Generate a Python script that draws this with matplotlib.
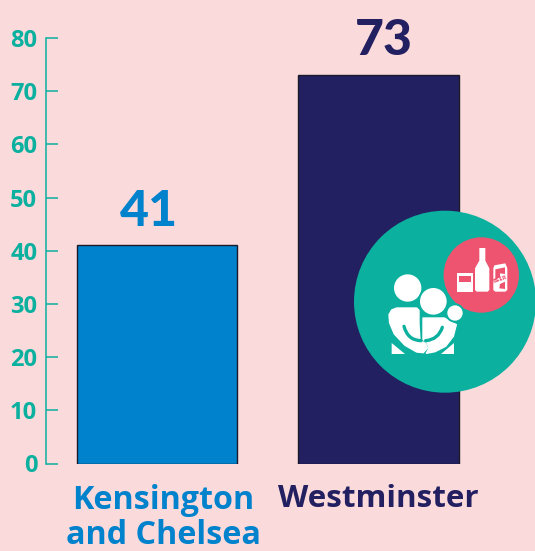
import matplotlib
matplotlib.use('Agg')
import matplotlib.pyplot as plt
from matplotlib.patches import Circle, Polygon, PathPatch
from matplotlib.path import Path

areas = ['Kensington\nand Chelsea', 'Westminster']
values = [41, 73]
y_ticks = [0, 10, 20, 30, 40, 50, 60, 70, 80]

BG = '#fbdadc'
TEAL = '#0bb09f'
BLUE = '#0082cc'
NAVY = '#222060'
PINK = '#ee5470'
FONT = ['Open Sans', 'DejaVu Sans']
NUM_FONT = ['Lato', 'DejaVu Sans']

W, H = 535, 551
fig = plt.figure(figsize=(W / 100, H / 100), dpi=100, facecolor=BG)

# main axes, placed to line up with the reference pixels
ax = fig.add_axes([45.5 / W, 1 - 463.5 / H, (W - 45.5) / W, (463.5 - 38) / H])
ax.set_facecolor('none')
bars = ax.bar([0, 1], values, width=0.7246, color=[BLUE, NAVY], edgecolor='#1a1a2a', linewidth=1)
ax.set_xlim(-0.503, 1.7065)
ax.set_ylim(0, 80)
ax.set_yticks(y_ticks)
ax.set_yticklabels(y_ticks, family=FONT, fontweight='bold', fontsize=17, color=TEAL)
ax.tick_params(axis='y', direction='in', length=8.5, width=1.1, color=TEAL, pad=6)
ax.set_xticks([])
for s in ['top', 'right', 'bottom']:
    ax.spines[s].set_visible(False)
ax.spines['left'].set_color(TEAL)
ax.spines['left'].set_linewidth(1.1)

# value labels sit a little off centre in the reference
for i, (v, c, dx) in enumerate(zip(values, [BLUE, NAVY], [-6, 3.5])):
    ax.annotate(str(v), (i, v), xytext=(dx, 8.5), textcoords='offset points', ha='center', va='bottom',
                family=NUM_FONT, fontweight='black', fontsize=36, color=c, annotation_clip=False)
for i, (n, c, dx, fs) in enumerate(zip(areas, [BLUE, NAVY], [4.5, 0], [23.2, 22.6])):
    ax.annotate(n, (i, 0), xytext=(dx, -15), textcoords='offset points', ha='center', va='top',
                family=FONT, fontweight='bold', fontsize=fs, color=c, linespacing=1.08,
                annotation_clip=False)

# overlay in pixel coordinates for the icon
ov = fig.add_axes([0, 0, 1, 1])
ov.set_xlim(0, W)
ov.set_ylim(H, 0)
ov.axis('off')


def fam(x, y):
    # family icon, crop coordinates to pixels
    return (385 + x / 3, 268 + y / 3)


def drk(x, y):
    # drinks icon, crop coordinates to pixels
    return (450 + x / 3, 240 + y / 3)


def poly(points, conv, color, zorder=3, round_lw=0):
    ov.add_patch(Polygon([conv(*p) for p in points], closed=True, fc=color,
                         ec=color if round_lw else 'none', lw=round_lw, joinstyle='round', zorder=zorder))


ov.add_patch(Circle((445, 301.7), 91, fc=TEAL, ec='none', zorder=2))
ov.add_patch(Circle((481.3, 275), 37.7, fc=PINK, ec='none', zorder=3))

# glass
poly([(20, 100), (68, 100), (68, 155), (20, 155)], drk, 'white', 4)
poly([(27, 107), (62, 107), (62, 127), (27, 127)], drk, PINK, 5)
# bottle
poly([(88, 24), (106, 24), (106, 62), (118, 85), (118, 150), (113, 155), (80, 155), (75, 150), (75, 85), (88, 62)],
     drk, 'white', 4)
# can
poly([(133, 76), (166, 70), (172, 85), (172, 150), (166, 155), (136, 155), (130, 150), (130, 85)], drk, 'white', 4)
poly([(136, 88), (165, 82), (165, 102), (150, 100), (150, 112), (136, 118)], drk, PINK, 5)
poly([(148, 145), (150, 132), (165, 125), (165, 147)], drk, PINK, 5)
ov.text(*drk(151, 118), 'BEER', rotation=18, ha='center', va='center', fontsize=4.3, fontweight='bold',
        family=FONT, color=PINK, zorder=7)

# adult and child
ov.add_patch(Circle(fam(68, 60), 41 / 3, fc='white', ec='none', zorder=4))
poly([(35, 120), (95, 120), (102, 127), (102, 170), (105, 218), (122, 226), (127, 240), (115, 254), (95, 252),
      (60, 232), (28, 198), (14, 165), (12, 140), (20, 126)], fam, 'white', 4, 1)
poly([(114, 150), (178, 150), (214, 170), (205, 205), (182, 235), (150, 251), (124, 256), (132, 240), (125, 222),
      (114, 215)], fam, 'white', 4, 1)
poly([(20, 225), (60, 258), (20, 258)], fam, 'white', 4)
poly([(207, 225), (207, 258), (168, 258)], fam, 'white', 4)
ov.add_patch(Circle(fam(145, 100), 46 / 3, fc=TEAL, ec='none', zorder=5))
ov.add_patch(Circle(fam(145, 100), 40 / 3, fc='white', ec='none', zorder=6))
ov.add_patch(Circle(fam(210, 135), 29 / 3, fc=TEAL, ec='none', zorder=5))
ov.add_patch(Circle(fam(210, 135), 23 / 3, fc='white', ec='none', zorder=6))
# teal arm lines
ov.add_patch(PathPatch(Path([fam(57, 175), fam(68, 217), fam(108, 218)], [Path.MOVETO, Path.CURVE3, Path.CURVE3]),
                       fc='none', ec=TEAL, lw=2.4, capstyle='round', zorder=7))
ov.add_patch(PathPatch(Path([fam(122, 218), fam(160, 215), fam(172, 178)], [Path.MOVETO, Path.CURVE3, Path.CURVE3]),
                       fc='none', ec=TEAL, lw=2.4, capstyle='round', zorder=7))

fig.savefig('out.png', dpi=100, facecolor=BG)
